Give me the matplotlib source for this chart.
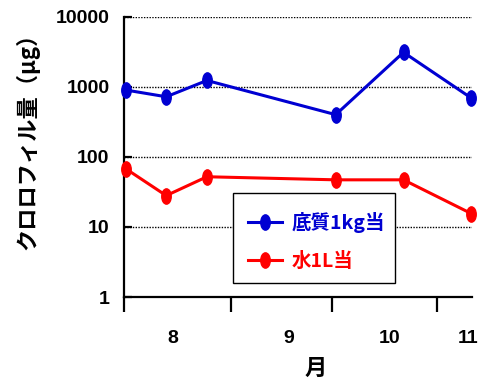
import matplotlib
matplotlib.use("Agg")
import matplotlib.pyplot as plt
from matplotlib.path import Path
from matplotlib.patches import Rectangle
from matplotlib.transforms import Affine2D
from matplotlib.ticker import FixedLocator, NullFormatter

# sampling days, counted from 1 August
days = [0, 12, 24, 62, 82, 102]
sediment_per_kg = [900, 720, 1230, 400, 3100, 690]   # chlorophyll per kg of sediment (µg)
water_per_l = [68, 28, 52, 47, 47, 15.5]             # chlorophyll per litre of water (µg)

month_starts = [31, 61, 92]
month_label_pos = [14, 48, 78, 101]
month_labels = ["8", "9", "10", "11"]
y_ticks = [1, 10, 100, 1000, 10000]
y_ticklabels = ["1", "10", "100", "1000", "10000"]

jp = ["Noto Sans CJK JP", "DejaVu Sans"]
num_font = "Liberation Sans"

blue = "#0000d2"
red = "#ff0000"

W, H = 493, 383
ax_l, ax_r, ax_t, ax_b = 123.5, 472, 16.7, 297

oval = Path.unit_circle().transformed(Affine2D().scale(0.62, 1.0))

fig = plt.figure(figsize=(W / 100, H / 100), dpi=100)
ax = fig.add_axes([ax_l / W, 1 - ax_b / H, (ax_r - ax_l) / W, (ax_b - ax_t) / H])


def fig_xy(px, py):
    return px / W, 1 - py / H


ax.set_yscale("log")
ax.set_ylim(1, 10000)
ax.set_xlim(-0.6, 102.2)

for v in y_ticks[1:]:
    ax.axhline(v, color="black", lw=1.0, ls=(0, (1, 1)), zorder=1)

ax.plot(days, sediment_per_kg, color=blue, lw=2.2, marker=oval, ms=11,
        clip_on=False, zorder=3, label="底質1kg当")
ax.plot(days, water_per_l, color=red, lw=2.2, marker=oval, ms=11,
        clip_on=False, zorder=3, label="水1L当")

for s in ["top", "right"]:
    ax.spines[s].set_visible(False)
for s in ["left", "bottom"]:
    ax.spines[s].set_linewidth(1.6)

ax.yaxis.set_major_locator(FixedLocator(y_ticks))
ax.yaxis.set_minor_locator(FixedLocator([]))
ax.set_yticklabels(y_ticklabels, fontfamily=num_font, fontweight="bold", fontsize=14)
ax.tick_params(axis="y", which="major", direction="in", length=6, width=1.6, pad=10)

ax.xaxis.set_major_locator(FixedLocator([-0.6] + month_starts))
ax.xaxis.set_major_formatter(NullFormatter())
ax.xaxis.set_minor_locator(FixedLocator(month_label_pos))
ax.set_xticklabels(month_labels, minor=True, fontfamily=num_font, fontweight="bold", fontsize=14)
ax.tick_params(axis="x", which="major", direction="out", length=11, width=1.6)
ax.tick_params(axis="x", which="minor", length=0, pad=24)

fig.text(*fig_xy(27, 135.6), "クロロフィル量（μg）", rotation=90,
         ha="center", va="center", fontfamily=jp, fontweight="bold", fontsize=16)
fig.text(*fig_xy(315.7, 368), "月", ha="center", va="center",
         fontfamily=jp, fontweight="bold", fontsize=16)

# legend box
bx0, by0 = fig_xy(232.7, 282.7)
bx1, by1 = fig_xy(395, 193)
fig.patches.append(Rectangle((bx0, by0), bx1 - bx0, by1 - by0, transform=fig.transFigure,
                             facecolor="white", edgecolor="black", lw=1.0, zorder=4))

leg = fig.legend(loc="upper left", bbox_to_anchor=fig_xy(248, 212),
                 frameon=False,
                 prop={"family": jp, "weight": "bold", "size": 14},
                 handlelength=1.75, handletextpad=0.5, borderpad=0, labelspacing=0.95,
                 borderaxespad=0)
for t, c in zip(leg.get_texts(), [blue, red]):
    t.set_color(c)
leg.set_zorder(5)

fig.savefig("out.png", dpi=100)
